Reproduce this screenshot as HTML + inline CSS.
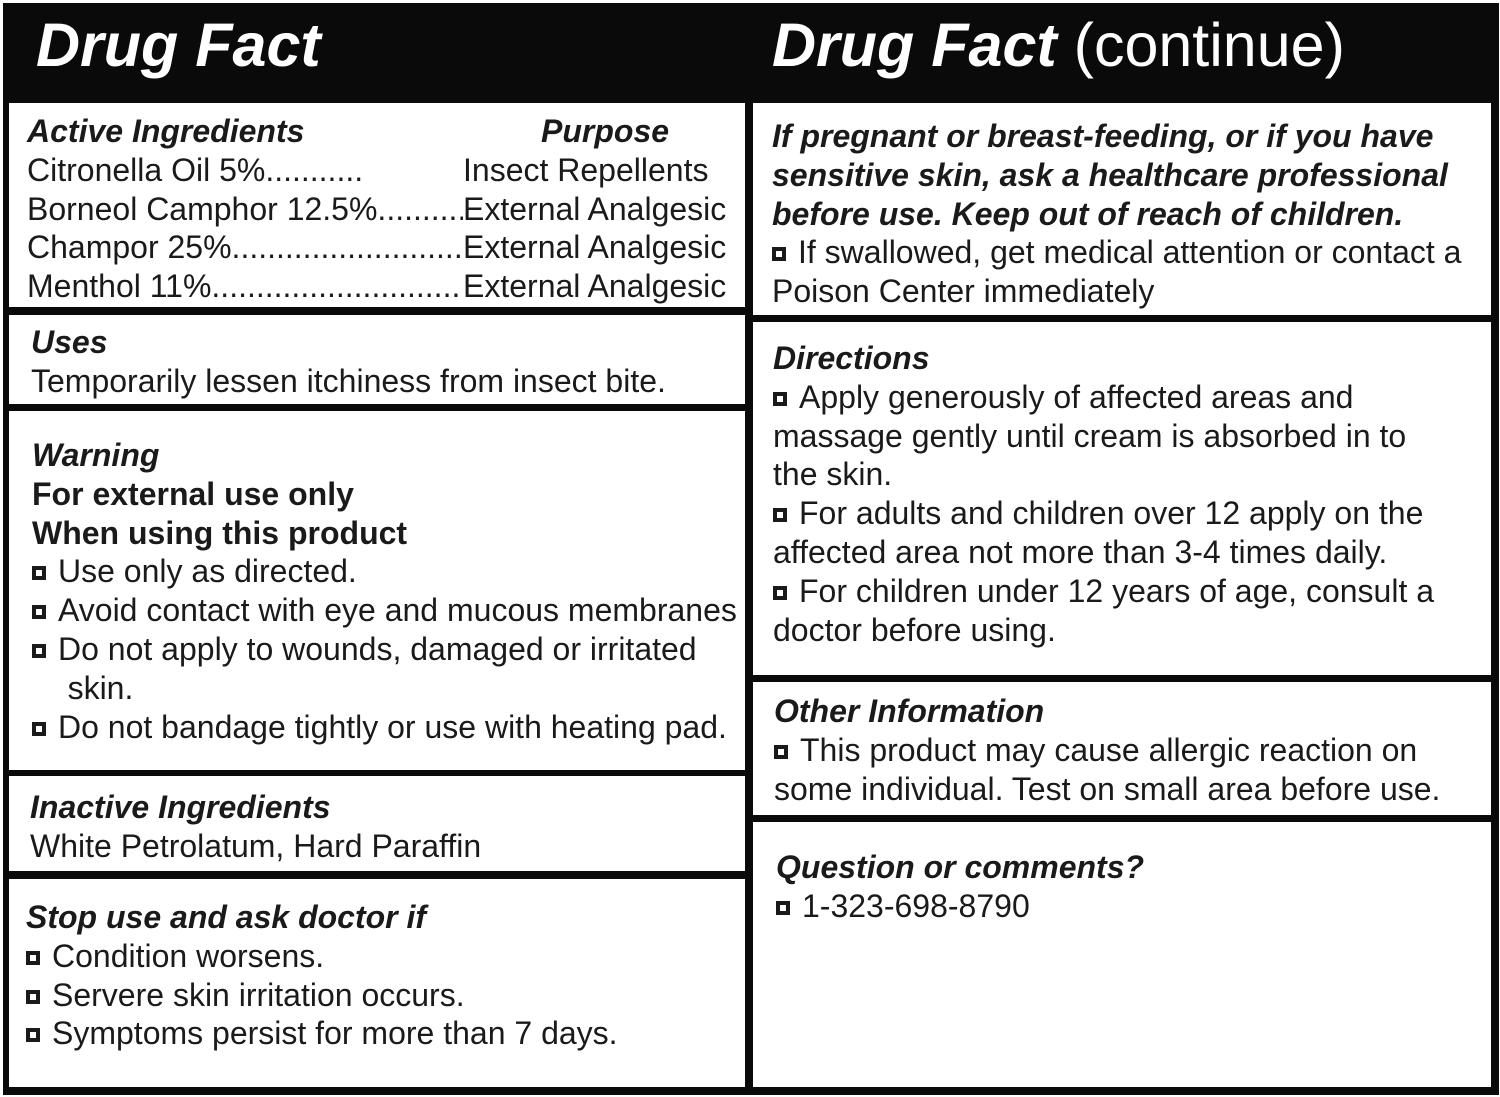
<!DOCTYPE html>
<html><head><meta charset="utf-8"><style>
html,body{margin:0;padding:0;width:1500px;height:1097px;background:#fff;overflow:hidden}
.bg{position:absolute;left:3px;top:3px;width:1496px;height:1092px;background:#0a0a0a}
.box{position:absolute;background:#fff}
.t{position:absolute;font-family:"Liberation Sans",Arial,sans-serif;font-size:32px;line-height:38.8px;color:#1a1a1a;white-space:nowrap}
.h{font-weight:bold;font-style:italic}
.b{font-weight:bold}
.title{position:absolute;font-family:"Liberation Sans",Arial,sans-serif;font-size:61px;font-weight:bold;font-style:italic;color:#fff;top:10px}
.sq{display:inline-block;width:6px;height:6px;border:4px solid #1a1a1a;margin-right:12px;vertical-align:2px}
.row{width:436px;overflow:hidden}
</style></head><body>
<div class="bg"></div>
<div class="title" style="left:36px">Drug Fact</div>
<div class="title" style="left:772px">Drug Fact <span style="font-weight:normal;font-style:normal">(continue)</span></div>

<div class="box" style="left:9px;top:103px;width:736px;height:204px"></div>
<div class="box" style="left:9px;top:315px;width:736px;height:89px"></div>
<div class="box" style="left:9px;top:411px;width:736px;height:359px"></div>
<div class="box" style="left:9px;top:776px;width:736px;height:95px"></div>
<div class="box" style="left:9px;top:879px;width:736px;height:208px"></div>

<div class="box" style="left:753px;top:103px;width:738px;height:212px"></div>
<div class="box" style="left:753px;top:322px;width:738px;height:353px"></div>
<div class="box" style="left:753px;top:682px;width:738px;height:133px"></div>
<div class="box" style="left:753px;top:822px;width:738px;height:265px"></div>

<div class="t" style="left:27px;top:112px"><span class="h">Active Ingredients</span><br>Citronella Oil 5%...........<br><div class="row">Borneol Camphor 12.5%..............................</div><div class="row">Champor 25%................................................</div><div class="row">Menthol 11%................................................</div></div>
<div class="t" style="left:463px;top:112px"><span class="h" style="margin-left:78px">Purpose</span><br>Insect Repellents<br>External Analgesic<br>External Analgesic<br>External Analgesic</div>

<div class="t" style="left:31px;top:323px"><span class="h">Uses</span><br>Temporarily lessen itchiness from insect bite.</div>

<div class="t" style="left:32px;top:436px"><span class="h">Warning</span><br><span class="b">For external use only</span><br><span class="b">When using this product</span><br><span class="sq"></span>Use only as directed.<br><span class="sq"></span>Avoid contact with eye and mucous membranes<br><span class="sq"></span>Do not apply to wounds, damaged or irritated<br>&nbsp;&nbsp;&nbsp;&nbsp;skin.<br><span class="sq"></span>Do not bandage tightly or use with heating pad.</div>

<div class="t" style="left:30px;top:788px"><span class="h">Inactive Ingredients</span><br>White Petrolatum, Hard Paraffin</div>

<div class="t" style="left:26px;top:898px"><span class="h">Stop use and ask doctor if</span><br><span class="sq"></span>Condition worsens.<br><span class="sq"></span>Servere skin irritation occurs.<br><span class="sq"></span>Symptoms persist for more than 7 days.</div>

<div class="t" style="left:772px;top:117px"><span class="h">If pregnant or breast-feeding, or if you have<br>sensitive skin, ask a healthcare professional<br>before use. Keep out of reach of children.</span><br><span class="sq"></span>If swallowed, get medical attention or contact a<br>Poison Center immediately</div>

<div class="t" style="left:773px;top:339px"><span class="h">Directions</span><br><span class="sq"></span>Apply generously of affected areas and<br>massage gently until cream is absorbed in to<br>the skin.<br><span class="sq"></span>For adults and children over 12 apply on the<br>affected area not more than 3-4 times daily.<br><span class="sq"></span>For children under 12 years of age, consult a<br>doctor before using.</div>

<div class="t" style="left:774px;top:692px"><span class="h">Other Information</span><br><span class="sq"></span>This product may cause allergic reaction on<br>some individual. Test on small area before use.</div>

<div class="t" style="left:776px;top:848px"><span class="h">Question or comments?</span><br><span class="sq"></span>1-323-698-8790</div>
</body></html>
